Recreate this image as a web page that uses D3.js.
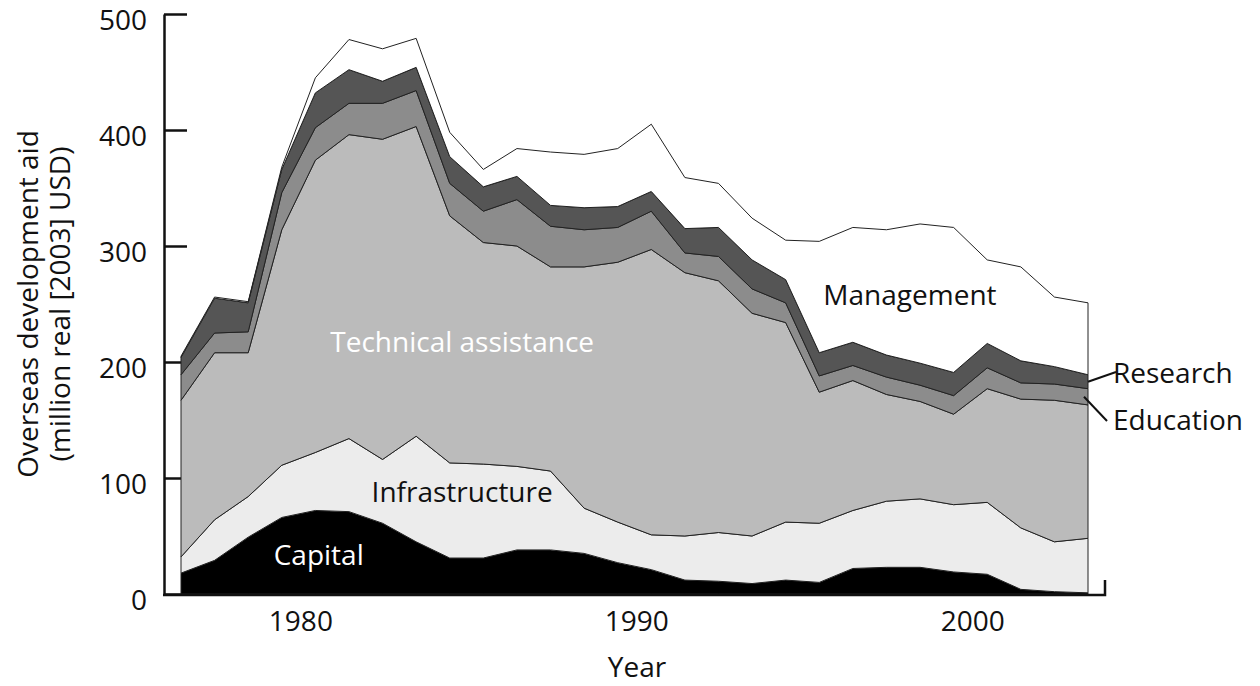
<!DOCTYPE html>
<meta charset="utf-8">
<style>
  body { margin: 0; background: #fff; }
  text { font-family: "Open Sans", "Noto Sans", sans-serif; }
  .areas path { stroke: #222; stroke-width: 1px; stroke-linejoin: round; }
</style>
<svg width="1260" height="686"></svg>
<script src="https://cdn.jsdelivr.net/npm/d3@7"></script>
<script>
  // values (million real 2003 USD)
  var years = [1976,1977,1978,1979,1980,1981,1982,1983,1984,1985,1986,1987,1988,1989,
               1990,1991,1992,1993,1994,1995,1996,1997,1998,1999,2000,2001,2002,2003];
  var capital        = [18,29,49,66,72,71,61,45,31,31,38,38,35,27,21,12,11,9,12,10,22,23,23,19,17,4,2,1];
  var infrastructure = [14,35,35,45,50,63,55,91,82,81,72,68,39,35,30,38,42,41,50,51,50,57,59,58,62,53,43,47];
  var technical      = [135,144,124,203,252,262,276,267,213,191,190,176,208,224,246,227,217,192,172,113,112,92,84,78,98,111,122,115];
  var education      = [22,17,18,32,28,27,31,31,28,27,40,35,32,30,33,17,21,21,17,14,13,15,14,16,18,14,14,14];
  var research       = [15,30,25,20,30,29,19,20,23,21,20,18,19,18,17,21,25,25,20,20,20,19,19,20,21,19,15,12];
  var management     = [1,1,1,2,13,26,28,25,21,15,24,46,46,50,58,44,38,36,34,96,99,108,120,125,72,81,60,62];

  var keys = ["Capital","Infrastructure","Technical assistance","Education","Research","Management"];
  var series = [capital, infrastructure, technical, education, research, management];
  var fills = ["#000000","#ececec","#bbbbbb","#8c8c8c","#555555","#ffffff"];
  var yTicks = [0,100,200,300,400,500];
  var xTicks = [1980,1990,2000];

  var svg = d3.select("svg");
  var fs = 28;

  var table = years.map(function(yr, i) {
    var row = {year: yr};
    keys.forEach(function(k, j) { row[k] = series[j][i]; });
    return row;
  });

  var x = d3.scaleLinear().domain([1976, 2003]).range([181, 1088]);
  var y = d3.scaleLinear().domain([0, 500]).range([594, 14]);

  var stacked = d3.stack().keys(keys)(table);

  var area = d3.area()
    .x(function(d) { return x(d.data.year); })
    .y0(function(d) { return y(d[0]); })
    .y1(function(d) { return y(d[1]); });

  // y axis, ticks pointing inward
  var yAxis = d3.axisLeft(y).tickValues(yTicks).tickSizeInner(-23).tickSizeOuter(0).tickPadding(17);
  var gy = svg.append("g").attr("transform", "translate(164,0)").call(yAxis);
  gy.select(".domain").attr("stroke", "#111").attr("stroke-width", 2.5);
  gy.selectAll(".tick line").attr("stroke", "#111").attr("stroke-width", 2.5);
  gy.selectAll(".tick text").attr("font-size", fs).attr("fill", "#111").attr("dy", "0.56em")
    .style("font-family", "'Open Sans', sans-serif");

  svg.append("g").attr("class", "areas")
    .selectAll("path")
    .data(stacked)
    .enter().append("path")
    .attr("fill", function(d, i) { return fills[i]; })
    .attr("d", area);

  // x axis: baseline with a small end tick, labels only
  var xAxis = d3.axisBottom(x).tickValues(xTicks).tickSize(0).tickPadding(16).tickFormat(d3.format("d"));
  var gx = svg.append("g").attr("transform", "translate(0,595)").call(xAxis);
  gx.select(".domain").remove();
  gx.selectAll(".tick text").attr("font-size", fs).attr("fill", "#111").attr("dx", -15)
    .style("font-family", "'Open Sans', sans-serif");
  svg.append("path")
    .attr("d", "M163,595H1105V580")
    .attr("fill", "none").attr("stroke", "#111").attr("stroke-width", 2.5);

  svg.append("text").attr("x", 637).attr("y", 677).attr("text-anchor", "middle")
    .attr("font-size", fs).attr("fill", "#111").text("Year");

  var yt = svg.append("text").attr("transform", "translate(38,304) rotate(-90)")
    .attr("text-anchor", "middle").attr("font-size", fs).attr("fill", "#111");
  yt.append("tspan").attr("x", 0).attr("y", 0).text("Overseas development aid");
  yt.append("tspan").attr("x", 0).attr("y", 32).text("(million real [2003] USD)");

  // in-chart labels
  var labels = [
    {t: "Technical assistance", yr: 1984.37, v: 209, c: "#fff"},
    {t: "Infrastructure", yr: 1984.37, v: 79, c: "#111"},
    {t: "Capital", yr: 1980.1, v: 25, c: "#fff"},
    {t: "Management", yr: 1997.7, v: 249, c: "#111"}
  ];
  svg.selectAll(".lbl").data(labels).enter().append("text")
    .attr("x", function(d) { return x(d.yr); })
    .attr("y", function(d) { return y(d.v); })
    .attr("text-anchor", "middle")
    .attr("fill", function(d) { return d.c; })
    .attr("font-size", fs)
    .text(function(d) { return d.t; });

  // leader-line labels at the right edge
  var last = years.length - 1;
  var resMid = (stacked[4][last][0] + stacked[4][last][1]) / 2;
  var eduMid = (stacked[3][last][0] + stacked[3][last][1]) / 2;
  svg.append("line").attr("x1", x(2003)).attr("y1", y(resMid)).attr("x2", 1116).attr("y2", 372)
    .attr("stroke", "#111").attr("stroke-width", 2);
  svg.append("line").attr("x1", x(2003) - 4).attr("y1", y(eduMid)).attr("x2", 1107).attr("y2", 421)
    .attr("stroke", "#111").attr("stroke-width", 2);
  svg.append("text").attr("x", 1113).attr("y", 383).attr("font-size", fs).attr("fill", "#111").text("Research");
  svg.append("text").attr("x", 1113).attr("y", 430).attr("font-size", fs).attr("fill", "#111").text("Education");
</script>
